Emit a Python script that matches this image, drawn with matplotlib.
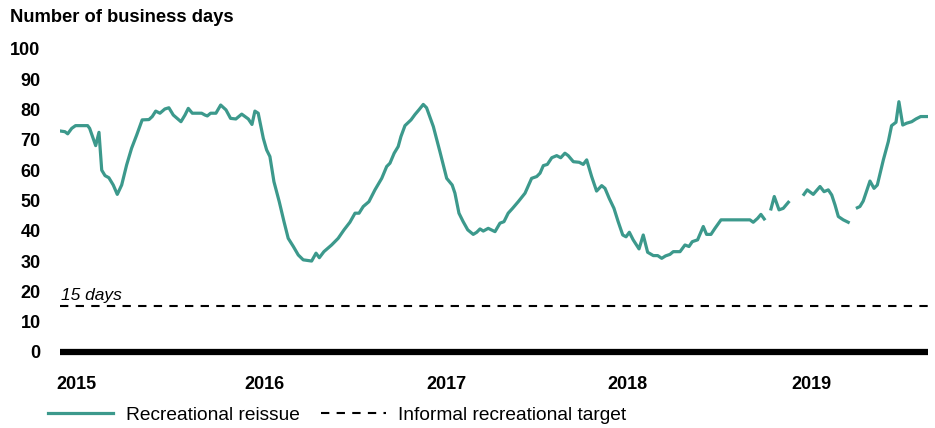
import matplotlib.pyplot as plt
import numpy as np

plt.rcParams['font.family'] = ['Liberation Sans', 'DejaVu Sans']

# time in fractional years, NaN marks a gap in the series
years = [
    2014.907, 2014.929, 2014.944, 2014.966, 2014.987, 2015.053, 2015.064,
    2015.097, 2015.115, 2015.130, 2015.148, 2015.169, 2015.193, 2015.215,
    2015.239, 2015.266, 2015.293, 2015.321, 2015.351, 2015.388, 2015.406,
    2015.425, 2015.448, 2015.475, 2015.497, 2015.521, 2015.563, 2015.585,
    2015.603, 2015.625, 2015.676, 2015.694, 2015.707, 2015.725, 2015.754,
    2015.780, 2015.809, 2015.834, 2015.863, 2015.895, 2015.931, 2015.951,
    2015.967, 2015.985, 2016.013, 2016.031, 2016.049, 2016.071, 2016.100,
    2016.126, 2016.149, 2016.177, 2016.204, 2016.231, 2016.277, 2016.301,
    2016.319, 2016.344, 2016.386, 2016.422, 2016.454, 2016.486, 2016.514,
    2016.536, 2016.559, 2016.590, 2016.623, 2016.660, 2016.687, 2016.705,
    2016.728, 2016.750, 2016.765, 2016.787, 2016.820, 2016.842, 2016.863,
    2016.887, 2016.905, 2016.942, 2016.978, 2017.015, 2017.045, 2017.060,
    2017.082, 2017.105, 2017.130, 2017.160, 2017.179, 2017.197, 2017.215,
    2017.242, 2017.279, 2017.306, 2017.328, 2017.351, 2017.375, 2017.406,
    2017.443, 2017.479, 2017.507, 2017.525, 2017.543, 2017.565, 2017.589,
    2017.616, 2017.638, 2017.661, 2017.679, 2017.707, 2017.739, 2017.761,
    2017.780, 2017.807, 2017.834, 2017.862, 2017.880, 2017.903, 2017.929,
    2017.952, 2017.977, 2017.995, 2018.013, 2018.034, 2018.066, 2018.089,
    2018.113, 2018.144, 2018.168, 2018.190, 2018.211, 2018.235, 2018.253,
    2018.290, 2018.317, 2018.339, 2018.357, 2018.386, 2018.417, 2018.435,
    2018.459, 2018.481, 2018.514, 2018.672, 2018.690, 2018.714, 2018.732,
    2018.750, 2018.760, 2018.787, 2018.805, 2018.831, 2018.854, 2018.882,
    2018.900, 2018.967, 2018.985, 2019.018, 2019.055, 2019.077, 2019.100,
    2019.119, 2019.137, 2019.155, 2019.182, 2019.209, 2019.220, 2019.259,
    2019.273, 2019.291, 2019.328, 2019.350, 2019.368, 2019.401, 2019.428,
    2019.446, 2019.470, 2019.486, 2019.507, 2019.528, 2019.556, 2019.579,
    2019.605, 2019.638,
]
reissue_days = [
    72.9, 72.7, 72.0, 73.8, 74.7, 74.7, 73.8,
    68.1, 72.5, 60.0, 58.2, 57.5, 55.1, 52.0,
    55.1, 61.7, 67.2, 71.6, 76.6, 76.7, 77.7,
    79.5, 78.8, 80.2, 80.6, 78.2, 76.0, 78.2,
    80.4, 78.8, 78.8, 78.2, 77.9, 78.8, 78.8,
    81.5, 79.9, 77.1, 76.9, 78.5, 76.9, 75.1,
    79.5, 78.8, 70.5, 66.7, 64.5, 56.2, 49.6,
    43.0, 37.5, 34.8, 32.0, 30.4, 30.0, 32.6,
    31.1, 33.1, 35.3, 37.5, 40.3, 42.8, 45.8,
    45.8, 48.0, 49.6, 53.5, 57.3, 61.2, 62.3,
    65.6, 67.8, 71.1, 74.7, 76.6, 78.4, 79.9,
    81.7, 80.6, 74.4, 66.1, 57.3, 55.1, 52.4,
    45.8, 43.0, 40.3, 38.8, 39.5, 40.6, 39.9,
    40.8, 39.7, 42.5, 43.0, 45.8, 47.4, 49.6,
    52.4, 57.3, 57.9, 59.0, 61.5, 61.9, 64.1,
    64.8, 64.1, 65.6, 64.8, 62.8, 62.6, 61.9,
    63.4, 57.9, 53.1, 54.9, 54.0, 50.7, 47.4,
    43.0, 38.6, 38.0, 39.5, 37.0, 34.0, 38.6,
    32.9, 31.8, 31.8, 30.9, 31.7, 32.2, 33.1,
    33.1, 35.3, 34.8, 36.4, 37.0, 41.4, 38.8,
    38.8, 40.8, 43.6, 43.6, 42.8, 44.1, 45.4,
    43.9, np.nan, 47.2, 51.3, 46.9, 47.4, 49.4,
    np.nan, 52.0, 53.5, 52.0, 54.6, 52.9, 53.5,
    51.8, 48.5, 44.7, 43.6, 42.8, np.nan, 47.6,
    48.0, 49.8, 56.4, 54.0, 55.1, 63.4, 69.4,
    74.7, 75.8, 82.6, 74.9, 75.5, 76.0, 76.9,
    77.7, 77.7,
]
target_days = 15
year_ticks = [2014.99, 2016.02, 2017.015, 2018.005, 2019.01]
year_labels = ['2015', '2016', '2017', '2018', '2019']
y_ticks = list(range(0, 101, 10))

teal = '#3c998c'

fig = plt.figure(figsize=(9.35, 4.28), dpi=100)
ax = fig.add_axes([60 / 935, 0.1636, 868 / 935, 0.729])

ax.plot(years, reissue_days, color=teal, lw=2.3, solid_joinstyle='round',
        label='Recreational reissue')
ax.axhline(target_days, color='black', lw=1.5, dashes=(4, 3.5),
           label='Informal recreational target')
ax.axhline(0, color='black', lw=4.5)
ax.text(2014.905, target_days + 1.2, '15 days', style='italic', fontsize=12.5,
        ha='left', va='bottom')

ax.set_xlim(2014.902, 2019.645)
ax.set_ylim(-2, 101)
ax.set_yticks(y_ticks)
ax.set_yticklabels([str(v) for v in y_ticks], fontweight='bold', fontsize=13)
ax.set_xticks(year_ticks)
ax.set_xticklabels(year_labels, fontweight='bold', fontsize=13)
ax.tick_params(axis='both', length=0)
ax.tick_params(axis='y', pad=14)
ax.tick_params(axis='x', pad=13)
for s in ax.spines.values():
    s.set_visible(False)

fig.text(10 / 935, 1 - 18 / 428, 'Number of business days', fontweight='bold',
         fontsize=13.2, ha='left', va='center')

fig.legend(loc='center left', bbox_to_anchor=(31 / 935, 1 - 415 / 428),
           ncol=2, frameon=False, fontsize=13.8, handlelength=3.4,
           handletextpad=0.65, columnspacing=1.1)

fig.savefig('out.png', dpi=100)
